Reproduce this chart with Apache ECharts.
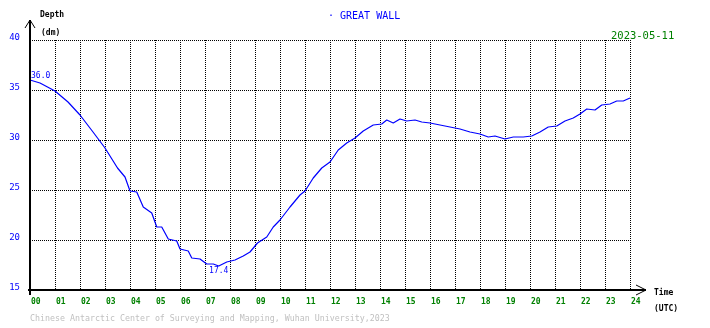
<!DOCTYPE html>
<html>
<head>
<meta charset="utf-8">
<title>GREAT WALL tide</title>
<script src="https://cdn.jsdelivr.net/npm/echarts@6/dist/echarts.min.js"></script>
<style>
  html, body { margin: 0; padding: 0; background: #fff; }
  #chart { width: 710px; height: 328px; }
</style>
</head>
<body>
<div id="chart"></div>
<script>
// 时间 (UTC 小时) 与潮位 (dm)
const hours = [0, 0.4, 1.0, 1.52, 2.0, 2.52, 3.0, 3.5, 3.8, 4.0, 4.27, 4.53, 4.87, 5.07, 5.27,
  5.53, 5.87, 6.0, 6.33, 6.47, 6.8, 7.07, 7.33, 7.55, 7.87, 8.2, 8.53, 8.8, 9.1, 9.47, 9.73,
  10.0, 10.4, 10.8, 11.0, 11.33, 11.67, 12.0, 12.33, 12.67, 13.0, 13.33, 13.73, 14.07, 14.27,
  14.53, 14.8, 15.07, 15.4, 15.67, 16.0, 16.4, 16.8, 17.2, 17.6, 18.0, 18.33, 18.6, 19.0,
  19.33, 19.73, 20.07, 20.4, 20.73, 21.07, 21.4, 21.73, 22.0, 22.27, 22.6, 22.87, 23.2,
  23.47, 23.73, 24.0];
const depth = [36.0, 35.7, 34.9, 33.8, 32.5, 30.8, 29.2, 27.2, 26.3, 24.9, 24.8, 23.3, 22.7, 21.3, 21.3,
  20.1, 19.9, 19.1, 18.9, 18.2, 18.1, 17.6, 17.6, 17.4, 17.8, 18.0, 18.4, 18.8, 19.7, 20.3, 21.3,
  22.0, 23.3, 24.5, 24.9, 26.2, 27.2, 27.8, 29.0, 29.7, 30.2, 30.9, 31.5, 31.6, 32.0,
  31.7, 32.1, 31.9, 32.0, 31.8, 31.7, 31.5, 31.3, 31.1, 30.8, 30.6, 30.3, 30.4, 30.1,
  30.3, 30.3, 30.4, 30.8, 31.3, 31.4, 31.9, 32.2, 32.6, 33.1, 33.0, 33.5, 33.6,
  33.9, 33.9, 34.2];

const stationName = 'GREAT WALL';
const dateText = '2023-05-11';
const footerText = 'Chinese Antarctic Center of Surveying and Mapping, Wuhan University,2023';

const FONT = '"DejaVu Sans Mono", monospace';
const grid = { left: 30, right: 80, top: 40, bottom: 38 };
const W = 710, H = 328;
const x0 = grid.left, y0 = H - grid.bottom;

// 首点与最低点标注
const minIdx = depth.indexOf(Math.min(...depth));
const points = hours.map((h, i) => {
  const item = { value: [h, depth[i]] };
  if (i === 0) {
    item.label = { show: true, position: 'top', align: 'left', offset: [1, 0], distance: 0 };
  } else if (i === minIdx) {
    item.label = { show: true, position: 'bottom', distance: 0, offset: [0, 1] };
  }
  return item;
});

const dotted = { color: '#000', width: 1, type: [1, 1] };

const chart = echarts.init(document.getElementById('chart'));
chart.setOption({
  animation: false,
  backgroundColor: '#fff',
  grid: grid,
  xAxis: {
    type: 'value', min: 0, max: 24, interval: 1,
    axisLine: { show: false }, axisTick: { show: false },
    splitLine: { show: true, lineStyle: dotted },
    axisLabel: {
      color: '#008000', fontFamily: FONT, fontSize: 8, fontWeight: 'bold',
      align: 'left', margin: 8, padding: [0, 0, 0, 1],
      formatter: v => String(v).padStart(2, '0')
    }
  },
  yAxis: {
    type: 'value', min: 15, max: 40, interval: 5,
    axisLine: { show: false }, axisTick: { show: false },
    splitLine: { show: true, lineStyle: dotted },
    axisLabel: {
      color: '#0000ff', fontFamily: FONT, fontSize: 9, margin: 10,
      verticalAlign: 'bottom', lineHeight: 5
    }
  },
  series: [{
    type: 'line',
    data: points,
    showSymbol: true,
    symbol: 'circle',
    symbolSize: 0,
    lineStyle: { color: '#0000ff', width: 1.2 },
    itemStyle: { color: '#0000ff' },
    label: { show: false, color: '#0000ff', fontFamily: FONT, fontSize: 8, formatter: p => p.value[1].toFixed(1) },
    z: 5
  }],
  graphic: [
    // 坐标轴与箭头
    { type: 'line', shape: { x1: x0, y1: y0 + 5, x2: x0, y2: 20 }, style: { stroke: '#000', lineWidth: 2 }, z: 10 },
    { type: 'polyline', shape: { points: [[x0 - 5, 28], [x0, 20], [x0 + 5, 28]] }, style: { stroke: '#000', lineWidth: 1, fill: null }, z: 10 },
    { type: 'line', shape: { x1: x0 - 2, y1: y0, x2: 646, y2: y0 }, style: { stroke: '#000', lineWidth: 2 }, z: 10 },
    { type: 'polyline', shape: { points: [[636, y0 - 5], [646, y0], [636, y0 + 5]] }, style: { stroke: '#000', lineWidth: 1, fill: null }, z: 10 },
    // 轴名称
    { type: 'text', left: 40, top: 11, style: { text: 'Depth', font: 'bold 8px ' + FONT, fill: '#000' } },
    { type: 'text', left: 41, top: 29, style: { text: '(dm)', font: 'bold 8px ' + FONT, fill: '#000' } },
    { type: 'text', left: 654, top: 289, style: { text: 'Time', font: 'bold 8px ' + FONT, fill: '#000' } },
    { type: 'text', left: 654, top: 305, style: { text: '(UTC)', font: 'bold 8px ' + FONT, fill: '#000' } },
    // 标题、日期、版权
    { type: 'text', left: 328, top: 11, style: { text: '· ' + stationName, font: '10px ' + FONT, fill: '#0000ff' } },
    { type: 'text', left: 611, top: 31, style: { text: dateText, font: '10.5px ' + FONT, fill: '#008000' } },
    { type: 'text', left: 30, top: 315, style: { text: footerText, font: '8.3px ' + FONT, fill: '#c0c0c0' } }
  ]
});
</script>
</body>
</html>
